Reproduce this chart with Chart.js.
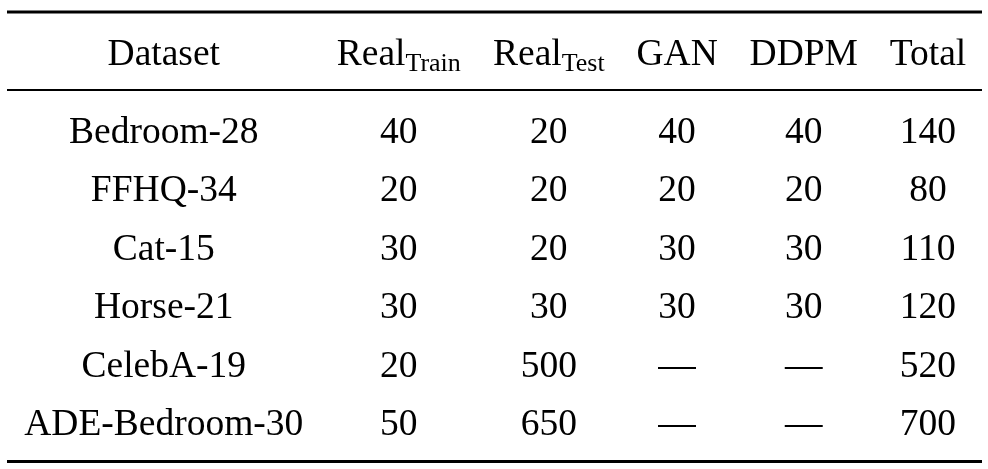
<!DOCTYPE html>
<html>
<head>
<meta charset="utf-8">
<script src="https://cdn.jsdelivr.net/npm/chart.js@4.4.1/dist/chart.umd.min.js"></script>
<style>
  html, body { margin: 0; padding: 0; background: #fff; }
  #wrap { width: 988px; height: 469px; }
</style>
</head>
<body>
<div id="wrap"><canvas id="tbl" width="988" height="469"></canvas></div>
<script>
// table contents
const datasetNames = ['Bedroom-28', 'FFHQ-34', 'Cat-15', 'Horse-21', 'CelebA-19', 'ADE-Bedroom-30'];
const realTrain = [40, 20, 30, 30, 20, 50];
const realTest = [20, 20, 20, 30, 500, 650];
const gan = [40, 20, 30, 30, null, null];
const ddpm = [40, 20, 30, 30, null, null];
const total = [140, 80, 110, 120, 520, 700];
const headMain = ['Dataset', 'Real', 'Real', 'GAN', 'DDPM', 'Total'];
const headSub = ['', 'Train', 'Test', '', '', ''];

const FONT = '"Liberation Serif", "Times New Roman", serif';
const SIZE = 37.5, SUBSIZE = 26;
const SEP = 15; // like \tabcolsep

const columns = [datasetNames, realTrain, realTest, gan, ddpm, total];
const cellText = v => (v === null ? '\u2014' : String(v));

// measure text to lay out columns the way LaTeX would
const mctx = document.createElement('canvas').getContext('2d');
function headWidth(i) {
  mctx.font = SIZE + 'px ' + FONT;
  let w = mctx.measureText(headMain[i]).width;
  if (headSub[i]) {
    mctx.font = SUBSIZE + 'px ' + FONT;
    w += mctx.measureText(headSub[i]).width;
  }
  return w;
}
const colCenters = [];
let acc = 0;
columns.forEach((col, i) => {
  mctx.font = SIZE + 'px ' + FONT;
  let w = headWidth(i);
  col.forEach(v => { w = Math.max(w, mctx.measureText(cellText(v)).width); });
  colCenters.push(acc + SEP + w / 2);
  acc += w + 2 * SEP;
});
const tableWidth = acc;

const chartSets = columns.map((col, i) => ({
  label: headMain[i] + headSub[i],
  data: col.map((v, r) => ({ x: colCenters[i], y: r + 1 })),
  texts: col.map(cellText),
  pointRadius: 0,
  pointHoverRadius: 0
}));

const tablePlugin = {
  id: 'tablePlugin',
  afterDatasetsDraw(chart) {
    const ctx = chart.ctx;
    const area = chart.chartArea;
    const xs = chart.scales.x;
    ctx.save();
    ctx.fillStyle = '#000';
    ctx.strokeStyle = '#000';
    ctx.textBaseline = 'alphabetic';

    // rules
    const rule = (y, w) => {
      ctx.lineWidth = w;
      ctx.beginPath();
      ctx.moveTo(area.left, y);
      ctx.lineTo(area.right, y);
      ctx.stroke();
    };
    rule(12, 3);
    rule(area.top - 11, 2);
    rule(area.bottom + 9.5, 3);

    // header
    const headBase = area.top - 36;
    headMain.forEach((m, i) => {
      const cx = xs.getPixelForValue(colCenters[i]);
      const w = headWidth(i);
      ctx.textAlign = 'left';
      ctx.font = SIZE + 'px ' + FONT;
      const mw = ctx.measureText(m).width;
      ctx.fillText(m, cx - w / 2, headBase);
      if (headSub[i]) {
        ctx.font = SUBSIZE + 'px ' + FONT;
        ctx.fillText(headSub[i], cx - w / 2 + mw, headBase + 6);
      }
    });

    // body cells
    ctx.font = SIZE + 'px ' + FONT;
    ctx.textAlign = 'center';
    chart.data.datasets.forEach((ds, di) => {
      chart.getDatasetMeta(di).data.forEach((pt, r) => {
        ctx.fillText(ds.texts[r], pt.x, pt.y + SIZE / 3);
      });
    });
    ctx.restore();
  }
};

new Chart(document.getElementById('tbl'), {
  type: 'scatter',
  data: { datasets: chartSets },
  options: {
    responsive: false,
    animation: false,
    events: [],
    layout: { padding: { left: 7, right: 988 - 7 - 975, top: 101, bottom: 17 } },
    plugins: { legend: { display: false }, tooltip: { enabled: false } },
    scales: {
      x: { type: 'linear', min: 0, max: tableWidth, display: false },
      y: { type: 'linear', min: 0.5, max: 6.5, reverse: true, display: false }
    }
  },
  plugins: [tablePlugin]
});
</script>
</body>
</html>
